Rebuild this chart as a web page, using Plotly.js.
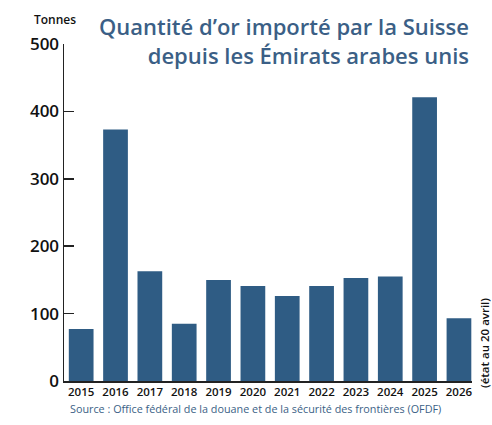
<!DOCTYPE html>
<html>
<head>
<meta charset="utf-8">
<script src="https://cdn.plot.ly/plotly-3.0.1.min.js"></script>
<style>html,body{margin:0;padding:0;background:#fff;}#chart{width:492px;height:425px;}</style>
</head>
<body>
<div id="chart"></div>
<script>
var years = ["2015","2016","2017","2018","2019","2020","2021","2022","2023","2024","2025","2026"];
var tonnes = [77, 373, 163, 85, 150, 141, 126, 141, 153, 155, 421, 93];
var yTicks = [0, 100, 200, 300, 400, 500];

var titleText = "Quantité d’or importé par la Suisse<br>depuis les Émirats arabes unis";
var unitText = "Tonnes";
var sourceText = "Source : Office fédéral de la douane et de la sécurité des frontières (OFDF)";
var noteText = "(état au 20 avril)";

var blue = "#2f5c84";
var titleBlue = "#3b5f86";
var font = "Open Sans, Noto Sans, sans-serif";

var W = 492, H = 425, ML = 64, MR = 20, MT = 44, MB = 44;
var PW = W - ML - MR, PH = H - MT - MB;
function px(x) { return (x - ML) / PW; }
function py(y) { return (H - MB - y) / PH; }

var data = [{
  type: "bar",
  x: years,
  y: tonnes,
  marker: {color: blue, line: {width: 0}},
  hoverinfo: "x+y"
}];

var layout = {
  width: W, height: H,
  margin: {l: ML, r: MR, t: MT, b: MB},
  paper_bgcolor: "#fff", plot_bgcolor: "#fff",
  showlegend: false,
  bargap: 0.28,
  font: {family: font, color: "#111"},
  xaxis: {
    type: "category",
    range: [-0.5, 11.38],
    showgrid: false, zeroline: false,
    showline: true, linecolor: "#222", linewidth: 1.5,
    ticks: "", ticklen: 0,
    tickfont: {family: font, size: 11.5, color: "#111", weight: 600},
    fixedrange: true
  },
  yaxis: {
    range: [0, 500],
    tickvals: yTicks,
    ticktext: yTicks.map(String),
    showgrid: false, zeroline: false,
    showline: true, linecolor: "#222", linewidth: 1.5,
    ticks: "inside", ticklen: 10, tickwidth: 1.5, tickcolor: "#222",
    tickfont: {family: font, size: 17, color: "#111", weight: 600},
    fixedrange: true
  },
  annotations: [
    {text: titleText, xref: "paper", yref: "paper", x: px(471), y: py(9),
     xanchor: "right", yanchor: "top", align: "right", showarrow: false,
     font: {family: font, size: 22, color: titleBlue, weight: 600}},
    {text: unitText, xref: "paper", yref: "paper", x: px(32), y: py(20),
     xanchor: "left", yanchor: "middle", showarrow: false,
     font: {family: font, size: 12, color: "#111", weight: 600}},
    {text: sourceText, xref: "paper", yref: "paper", x: px(68), y: py(408),
     xanchor: "left", yanchor: "middle", showarrow: false,
     font: {family: font, size: 10.8, color: titleBlue}},
    {text: noteText, xref: "paper", yref: "paper", x: px(484), y: py(343),
     xanchor: "center", yanchor: "middle", textangle: -90, showarrow: false,
     font: {family: font, size: 11.5, color: "#111", weight: 600}}
  ]
};

Plotly.newPlot("chart", data, layout, {displayModeBar: false, staticPlot: true});
</script>
</body>
</html>
